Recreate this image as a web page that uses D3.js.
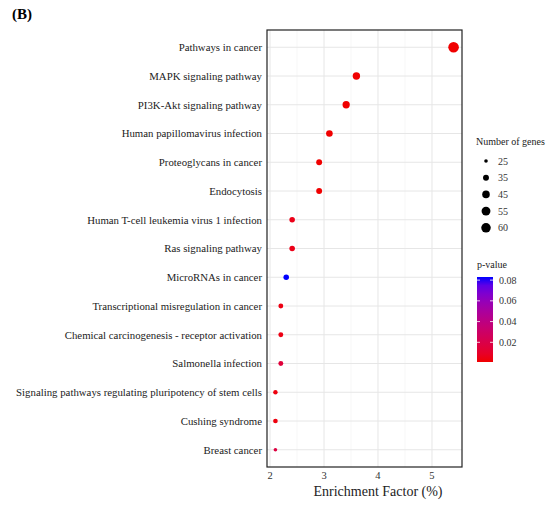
<!DOCTYPE html>
<html>
<head>
<meta charset="utf-8">
<script src="https://cdn.jsdelivr.net/npm/d3@7"></script>
<style>
  body { margin: 0; background: #fff; }
  text { font-family: "Liberation Serif", "Times New Roman", serif; }
</style>
</head>
<body>
<div id="container"></div>
<script>
// KEGG pathways, top to bottom
const pathways = [
  "Pathways in cancer",
  "MAPK signaling pathway",
  "PI3K-Akt signaling pathway",
  "Human papillomavirus infection",
  "Proteoglycans in cancer",
  "Endocytosis",
  "Human T-cell leukemia virus 1 infection",
  "Ras signaling pathway",
  "MicroRNAs in cancer",
  "Transcriptional misregulation in cancer",
  "Chemical carcinogenesis - receptor activation",
  "Salmonella infection",
  "Signaling pathways regulating pluripotency of stem cells",
  "Cushing syndrome",
  "Breast cancer"
];
const enrichment = [5.40, 3.60, 3.41, 3.10, 2.91, 2.91, 2.41, 2.41, 2.30, 2.20, 2.20, 2.20, 2.10, 2.10, 2.10];
const geneCount = [70, 44, 43, 39, 35, 35, 33, 33, 33, 30, 30, 30, 28, 29, 25];
const pValue = [0.001, 0.001, 0.001, 0.001, 0.001, 0.001, 0.005, 0.005, 0.083, 0.004, 0.004, 0.015, 0.003, 0.003, 0.017];

const xTicks = [2, 3, 4, 5];
const sizeBreaks = [25, 35, 45, 55, 60];
const pTicks = [0.02, 0.04, 0.06, 0.08];

const width = 553, height = 507;
const panel = { left: 267, right: 462, top: 30, bottom: 467 };

const svg = d3.select("#container").append("svg")
  .attr("width", width)
  .attr("height", height);

const x = d3.scaleLinear().domain([1.944, 5.556]).range([panel.left, panel.right]);
const y = d3.scalePoint().domain(pathways).range([panel.top, panel.bottom]).padding(0.6);
const r = d3.scaleRadial().domain([25, 70]).range([1.8, 5.3]);
const color = d3.scaleSequential(d3.interpolateLab("#f00000", "#0000ff")).domain([0.001, 0.083]);

// grid
const grid = svg.append("g");
const minor = [2.5, 3.5, 4.5];
grid.selectAll("line.minor").data(minor).join("line")
  .attr("x1", d => x(d)).attr("x2", d => x(d))
  .attr("y1", panel.top).attr("y2", panel.bottom)
  .attr("stroke", "#f2f2f2").attr("stroke-width", 0.6);
grid.selectAll("line.vx").data(xTicks).join("line")
  .attr("x1", d => x(d)).attr("x2", d => x(d))
  .attr("y1", panel.top).attr("y2", panel.bottom)
  .attr("stroke", "#e6e6e6").attr("stroke-width", 1);
grid.selectAll("line.hy").data(pathways).join("line")
  .attr("x1", panel.left).attr("x2", panel.right)
  .attr("y1", d => y(d)).attr("y2", d => y(d))
  .attr("stroke", "#e6e6e6").attr("stroke-width", 1);

// points
const rows = pathways.map((p, i) => ({ name: p, ef: enrichment[i], n: geneCount[i], p: pValue[i] }));
svg.append("g").selectAll("circle").data(rows).join("circle")
  .attr("cx", d => x(d.ef))
  .attr("cy", d => y(d.name))
  .attr("r", d => r(d.n))
  .attr("fill", d => color(d.p));

// panel border
svg.append("rect")
  .attr("x", panel.left).attr("y", panel.top)
  .attr("width", panel.right - panel.left).attr("height", panel.bottom - panel.top)
  .attr("fill", "none").attr("stroke", "#222").attr("stroke-width", 1.2);

// y labels
svg.append("g").selectAll("text").data(pathways).join("text")
  .attr("x", panel.left - 5)
  .attr("y", d => y(d))
  .attr("dy", "0.35em")
  .attr("text-anchor", "end")
  .attr("font-size", 10.8)
  .attr("fill", "#222")
  .text(d => d);

// x ticks
svg.append("g").selectAll("text").data(xTicks).join("text")
  .attr("x", d => x(d))
  .attr("y", panel.bottom + 12)
  .attr("text-anchor", "middle")
  .attr("font-size", 10.5)
  .attr("fill", "#333")
  .text(d => d);

svg.append("text")
  .attr("x", 378)
  .attr("y", 496)
  .attr("text-anchor", "middle")
  .attr("font-size", 14)
  .attr("fill", "#222")
  .text("Enrichment Factor (%)");

svg.append("text")
  .attr("x", 12).attr("y", 19)
  .attr("font-size", 15)
  .attr("font-weight", "bold")
  .text("(B)");

// size legend
const sizeG = svg.append("g").attr("transform", "translate(476,0)");
sizeG.append("text").attr("x", 0).attr("y", 145).attr("font-size", 10).attr("fill", "#222").text("Number of genes");
sizeBreaks.forEach((b, i) => {
  const cy = 161 + i * 16.7;
  sizeG.append("circle").attr("cx", 10).attr("cy", cy).attr("r", r(b)).attr("fill", "#000");
  sizeG.append("text").attr("x", 22).attr("y", cy).attr("dy", "0.35em").attr("font-size", 10).attr("fill", "#333").text(b);
});

// colour legend
const barTop = 277, barBottom = 362, barX = 477, barW = 16;
const pv = d3.scaleLinear().domain([0.001, 0.083]).range([barBottom, barTop]);
const defs = svg.append("defs");
const grad = defs.append("linearGradient").attr("id", "pgrad")
  .attr("x1", 0).attr("y1", 1).attr("x2", 0).attr("y2", 0);
d3.range(0, 1.0001, 0.1).forEach(t => {
  grad.append("stop").attr("offset", t)
    .attr("stop-color", color(0.001 + t * (0.083 - 0.001)));
});
svg.append("text").attr("x", barX).attr("y", 268).attr("font-size", 10).attr("fill", "#222").text("p-value");
svg.append("rect").attr("x", barX).attr("y", barTop).attr("width", barW).attr("height", barBottom - barTop)
  .attr("fill", "url(#pgrad)");
pTicks.forEach(t => {
  svg.append("line").attr("x1", barX).attr("x2", barX + 3).attr("y1", pv(t)).attr("y2", pv(t))
    .attr("stroke", "#fff").attr("stroke-width", 0.8);
  svg.append("line").attr("x1", barX + barW - 3).attr("x2", barX + barW).attr("y1", pv(t)).attr("y2", pv(t))
    .attr("stroke", "#fff").attr("stroke-width", 0.8);
  svg.append("text").attr("x", barX + barW + 6).attr("y", pv(t)).attr("dy", "0.35em")
    .attr("font-size", 10).attr("fill", "#333").text(t.toFixed(2));
});
</script>
</body>
</html>
